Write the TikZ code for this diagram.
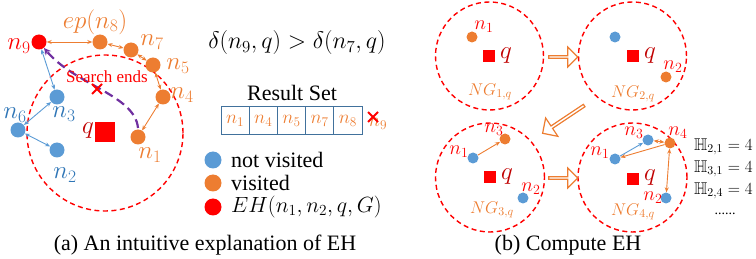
\RequirePackage{fix-cm}
\documentclass[tikz,border=0pt]{standalone}
\usepackage{amssymb}
\usepackage{fontspec}
\setmainfont{Liberation Serif}
\usetikzlibrary{arrows.meta,shapes.arrows,calc}
\definecolor{nblue}{HTML}{5B9BD5}
\definecolor{lblue}{HTML}{2E75B6}
\definecolor{norange}{HTML}{ED7D31}
\definecolor{nred}{HTML}{FF0000}
\definecolor{qred}{HTML}{C00000}
\definecolor{purp}{HTML}{7030A0}
\definecolor{tblue}{HTML}{41719C}
\newcommand{\fs}[1]{\fontsize{#1}{#1}\selectfont}
\tikzset{
  dot/.style={circle,inner sep=0pt,minimum size=15pt},
  bdot/.style={dot,fill=nblue},
  odot/.style={dot,fill=norange},
  rdot/.style={dot,fill=nred},
  sbdot/.style={bdot,minimum size=11pt},
  sodot/.style={odot,minimum size=11pt},
  qsq/.style={rectangle,fill=nred,inner sep=0pt,minimum size=20pt},
  sqsq/.style={qsq,minimum size=12pt},
  ring/.style={draw=nred,circle,inner sep=0pt,line width=1.4pt,dash pattern=on 5pt off 3.5pt},
  lab/.style={inner sep=0pt,font=\fs{25}},
  slab/.style={inner sep=0pt,font=\fs{20},text=nred},
  nglab/.style={inner sep=0pt,font=\fs{17},text=norange},
  oedge/.style={draw=norange,line width=0.9pt,{Stealth[length=5pt,width=4pt]}-{Stealth[length=5pt,width=4pt]}},
  bedge/.style={draw=nblue,line width=0.9pt,{Stealth[length=5pt,width=4pt]}-{Stealth[length=5pt,width=4pt]}},
  oarr/.style={draw=norange,line width=0.9pt,-{Stealth[length=5pt,width=4pt]}},
  barr/.style={draw=nblue,line width=0.9pt,-{Stealth[length=5pt,width=4pt]}},
  cell/.style={draw=tblue,line width=1pt,minimum width=28.2pt,minimum height=28pt,inner sep=0pt,font=\fs{19},text=norange},
  hollow/.style={single arrow,draw=norange,fill=white,line width=1.2pt,inner sep=0pt,minimum width=20pt,single arrow head extend=4pt},
  xmark/.style={draw=nred,line width=2pt},
  txt/.style={inner sep=0pt,font=\fs{22}},
}
\begin{document}
\begin{tikzpicture}[x=1pt,y=-1pt]
\useasboundingbox (0,0) rectangle (756,259);
% ---------- panel (a) ----------
\node[ring,minimum size=156pt] (bigc) at (105,133) {};
\node[qsq] (q) at (105,132) {};
\node[lab,text=qred] (ql) at (88,131) {$q$};
\node[rdot] (n9) at (39,42) {};
\node[odot] (n8) at (100,42) {};
\node[odot] (n7) at (131,50) {};
\node[odot] (n5) at (153,65) {};
\node[odot] (n4) at (163,97) {};
\node[odot] (n1) at (138,137) {};
\node[bdot] (n3) at (57,97) {};
\node[bdot] (n6) at (18,130) {};
\node[bdot] (n2) at (57,150) {};
\node[lab,text=nred] (l9) at (19,46) {$n_9$};
\node[lab,text=norange] (l8) at (95,22) {$ep(n_8)$};
\node[lab,text=norange] (l7) at (152,42) {$n_7$};
\node[lab,text=norange] (l5) at (178,66) {$n_5$};
\node[lab,text=norange] (l4) at (182,95) {$n_4$};
\node[lab,text=norange] (l1) at (150,155) {$n_1$};
\node[lab,text=lblue] (l3) at (64,114) {$n_3$};
\node[lab,text=lblue] (l6) at (15,115) {$n_6$};
\node[lab,text=lblue] (l2) at (65,175) {$n_2$};
\draw[oedge] (n9) -- (n8);
\draw[oedge] (n8) -- (n7);
\draw[oedge] (n7) -- (n5);
\draw[oedge] (n5) -- (n4);
\draw[oedge] (n4) -- (n1);
\draw[bedge] (n9) -- (n3);
\draw[bedge] (n6) -- (n3);
\draw[bedge] (n6) -- (n2);
\coordinate (ps) at (138,128);
\coordinate (pe) at (44,48);
\draw[purp,line width=2.2pt,dash pattern=on 9pt off 5pt,-{Stealth[length=7pt,width=7pt]}] (ps) .. controls (135,95) and (75,85) .. (pe);
\coordinate (xs) at (97,89);
\draw[xmark] ($(xs)+(-5,-5)$) -- ($(xs)+(5,5)$) ($(xs)+(-5,5)$) -- ($(xs)+(5,-5)$);
\node[inner sep=0pt,font=\rmfamily\fs{17},text=nred] (se) at (107,77) {Search ends};
% formula
\node[inner sep=0pt,font=\fs{24}] (ineq) at (297,43) {$\delta(n_9,q)>\delta(n_7,q)$};
\node[txt] (rs) at (292,93) {Result Set};
\node[cell] (c1) at (235.1,121) {$n_1$};
\node[cell] (c2) at (263.3,121) {$n_4$};
\node[cell] (c3) at (291.5,121) {$n_5$};
\node[cell] (c4) at (319.7,121) {$n_7$};
\node[cell] (c5) at (347.9,121) {$n_8$};
\node[inner sep=0pt,font=\fs{19},text=norange] (c9) at (378,124) {$n_9$};
\coordinate (xr) at (373,117);
\draw[xmark] ($(xr)+(-5,-5)$) -- ($(xr)+(5,5)$) ($(xr)+(-5,5)$) -- ($(xr)+(5,-5)$);
% legend
\node[bdot,minimum size=17pt] (lg1) at (213,160) {};
\node[odot,minimum size=17pt] (lg2) at (213,183) {};
\node[rdot,minimum size=17pt] (lg3) at (213,207) {};
\node[txt,anchor=west] (lt1) at (231,160) {not visited};
\node[txt,anchor=west] (lt2) at (231,183) {visited};
\node[txt,anchor=west] (lt3) at (231,207) {$EH(n_1,n_2,q,G)$};
\node[txt] (capa) at (205,245) {(a) An intuitive explanation of EH};
% ---------- panel (b) ----------
\node[ring,minimum size=108pt] (g1) at (489.5,56) {};
\node[ring,minimum size=108pt] (g2) at (632.5,56) {};
\node[ring,minimum size=109pt] (g3) at (490,177.5) {};
\node[ring,minimum size=109pt] (g4) at (632.5,177.5) {};
% circle 1
\node[sodot] (a1) at (472,37) {};
\node[slab] (a1l) at (484,27) {$n_1$};
\node[sqsq] (aq) at (489,56) {};
\node[lab,text=qred] (aql) at (506,56) {$q$};
\node[nglab] (ang) at (490,92) {$NG_{1,q}$};
% circle 2
\node[sbdot] (b1) at (615,37) {};
\node[sqsq] (bq) at (633,56) {};
\node[lab,text=qred] (bql) at (650,56) {$q$};
\node[slab] (b2l) at (673,67) {$n_2$};
\node[sodot] (b2) at (666,77) {};
\node[nglab] (bng) at (633,94) {$NG_{2,q}$};
% circle 3
\node[sodot] (d3) at (505,139) {};
\node[slab] (d3l) at (494,130) {$n_3$};
\node[sbdot] (d1) at (473,158) {};
\node[slab] (d1l) at (459,152) {$n_1$};
\node[sqsq] (dq) at (490,177) {};
\node[lab,text=qred] (dql) at (507,177) {$q$};
\node[slab] (d2l) at (531,189) {$n_2$};
\node[sbdot] (d2) at (523,198) {};
\node[nglab] (dng) at (492,210) {$NG_{3,q}$};
\draw[oarr] (d1) -- (d3);
% circle 4
\node[sbdot] (e3) at (648,140) {};
\node[slab] (e3l) at (634,133) {$n_3$};
\node[sodot] (e4) at (670,143) {};
\node[slab] (e4l) at (678,133) {$n_4$};
\node[sbdot] (e1) at (615,159) {};
\node[slab] (e1l) at (600,153) {$n_1$};
\node[sbdot] (e2) at (666,198) {};
\node[slab] (e2l) at (653,198) {$n_2$};
\node[sqsq] (eq) at (633,179) {};
\node[lab,text=qred] (eql) at (650,178) {$q$};
\node[nglab] (eng) at (633,212) {$NG_{4,q}$};
\draw[barr] (e1) -- (e3);
\draw[oedge] (e3) -- (e4);
\draw[oarr] (e4) -- (e1);
\draw[oedge] (e4) -- (e2);
% hollow arrows
\node[hollow,minimum height=29pt] (h1) at (562.5,57) {};
\node[hollow,minimum height=29pt] (h2) at (562.5,178) {};
\node[hollow,minimum height=50pt,minimum width=22pt,rotate=213.7] (h3) at (564,119) {};
% H values
\node[inner sep=0pt,font=\fs{17},anchor=west] (hh1) at (694,147) {$\mathbb{H}_{2,1}=4$};
\node[inner sep=0pt,font=\fs{17},anchor=west] (hh2) at (694,169) {$\mathbb{H}_{3,1}=4$};
\node[inner sep=0pt,font=\fs{17},anchor=west] (hh3) at (694,191) {$\mathbb{H}_{2,4}=4$};
\node[inner sep=0pt,font=\fs{14}] (dots) at (725,214) {......};
\node[txt] (capb) at (568,245) {(b) Compute EH};
\end{tikzpicture}
\end{document}
